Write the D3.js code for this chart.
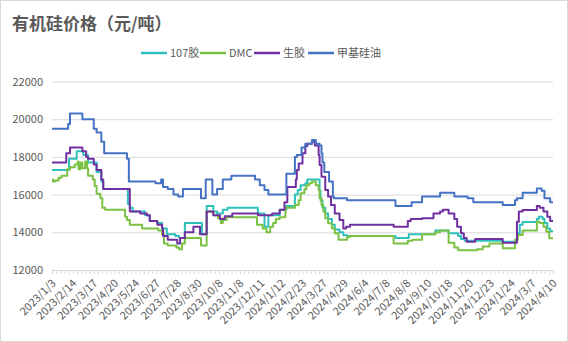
<!DOCTYPE html>
<html>
<head>
<meta charset="utf-8">
<script src="https://cdn.jsdelivr.net/npm/d3@7"></script>
<style>
  html, body { margin: 0; padding: 0; background: #fff; }
  svg { display: block; font-family: "Noto Sans CJK SC", "Noto Sans", sans-serif; }
</style>
</head>
<body>
<svg id="chart" width="568" height="342"></svg>
<script>
// ---------- data ----------
const title = "有机硅价格（元/吨）";
const pointCount = 529; // number of daily categories
const tickLabels = ["2023/1/3","2023/2/14","2023/3/17","2023/4/20","2023/5/24","2023/6/27","2023/7/28","2023/8/30","2023/10/8","2023/11/8","2023/12/11","2024/1/12","2024/2/23","2024/3/27","2024/4/29","2024/6/4","2024/7/8","2024/8/8","2024/9/10","2024/10/18","2024/11/20","2024/12/23","2024/1/24","2024/3/7","2024/4/10"];
const labelInterval = 22;
const yTicks = [12000, 14000, 16000, 18000, 20000, 22000];
const seriesNames = ["107胶", "DMC", "生胶", "甲基硅油"];

// each series: [category index where price changes, price]
const s107 = [[0,17300],[18,17900],[26,18300],[33,18100],[38,17700],[47,17200],[52,16700],[54,16300],[80,15500],[82,15300],[85,15100],[98,14900],[103,14600],[111,14500],[116,14200],[121,13900],[130,13800],[134,13700],[140,14500],[158,13900],[163,15400],[170,15100],[174,15000],[180,15200],[185,15300],[217,15000],[224,14300],[228,14900],[240,15200],[247,15400],[256,16000],[259,16240],[262,16500],[267,16600],[269,16800],[282,16200],[283,15700],[285,15300],[288,15000],[291,14700],[295,14400],[298,14150],[303,14000],[307,13850],[311,13800],[362,13700],[376,13900],[404,14100],[418,13950],[428,13800],[431,13650],[435,13550],[475,13500],[490,13950],[493,14400],[496,14550],[511,14700],[513,14830],[517,14700],[519,14500],[522,14200],[525,14050]];
const sDMC = [[0,16800],[1,16700],[3,16750],[7,16900],[10,17000],[16,17350],[19,17450],[24,17600],[27,17750],[28,17350],[30,17700],[32,17400],[35,17750],[37,17400],[38,17000],[43,16800],[45,16450],[47,16050],[51,15800],[53,15300],[56,15200],[77,14830],[79,14650],[82,14400],[95,14200],[112,14100],[116,13900],[118,13400],[122,13300],[131,13200],[134,13100],[137,13400],[140,13700],[157,13300],[163,15100],[170,14900],[175,14750],[178,14500],[180,14650],[184,14800],[216,14400],[222,14200],[226,14000],[230,14300],[233,14500],[236,14700],[240,14800],[246,15300],[256,15450],[260,15700],[262,16070],[266,16280],[268,16500],[271,16600],[274,16700],[278,16500],[281,16250],[282,15800],[284,15450],[286,15100],[288,14750],[291,14480],[295,14200],[298,13950],[302,13600],[311,13750],[314,13800],[360,13400],[375,13550],[380,13600],[390,13900],[404,14000],[409,14100],[418,13450],[424,13200],[428,13050],[448,13100],[454,13250],[461,13400],[475,13150],[488,13600],[491,13860],[496,14100],[511,14560],[514,14500],[518,14300],[521,14030],[524,13680]];
const sRubber = [[0,17700],[15,18200],[19,18500],[32,18300],[36,18000],[38,17900],[44,17600],[47,17300],[52,16800],[54,16300],[82,15100],[93,15000],[100,14900],[103,14600],[111,14400],[116,14200],[117,13800],[122,13600],[132,13400],[135,13700],[140,14000],[149,14300],[156,13900],[163,15100],[170,14900],[177,14700],[182,14850],[190,15000],[217,14900],[232,15000],[240,15200],[245,15600],[248,16400],[257,16800],[258,17300],[260,17650],[264,18200],[267,18580],[269,18700],[274,18800],[277,18600],[281,18100],[282,17570],[284,16950],[288,16240],[291,15900],[294,15450],[298,15000],[303,14650],[307,14200],[310,14300],[314,14400],[360,14300],[375,14600],[378,14700],[390,14750],[402,15000],[409,15100],[412,15200],[418,15000],[424,14700],[427,14300],[431,13950],[434,13700],[437,13500],[446,13650],[475,13450],[490,14560],[492,15100],[496,15180],[511,15400],[514,15300],[518,15100],[522,14830],[525,14600]];
const sSilicone = [[0,19500],[17,19750],[19,20300],[32,20000],[44,19500],[47,19300],[52,18800],[55,18200],[79,17900],[81,16700],[109,16600],[115,16800],[117,16400],[122,16300],[128,16000],[133,15900],[138,16300],[157,15800],[162,16800],[169,16000],[174,16300],[180,16800],[189,17000],[214,16800],[219,16500],[224,16250],[228,16000],[247,17100],[256,18000],[258,18100],[263,18500],[267,18700],[274,18900],[278,18700],[282,18600],[284,18200],[285,17700],[287,17200],[292,16700],[296,15900],[297,15800],[311,15700],[362,15400],[379,15600],[390,15900],[409,16100],[424,15900],[438,15800],[444,15600],[475,15450],[488,15700],[490,15800],[496,16100],[511,16330],[516,16200],[519,15800],[525,15600]];

const seriesData = [s107, sDMC, sRubber, sSilicone];
const colors = ["#2EC0BC", "#7BC143", "#7030A0", "#4472C4"];

// ---------- layout ----------
const svg = d3.select("#chart");
const margin = { left: 52, right: 15, top: 81, bottom: 72 };
const W = 568, H = 342;

svg.append("rect").attr("x", 0.5).attr("y", 0.5).attr("width", W - 1).attr("height", H - 1)
  .attr("fill", "#fff").attr("stroke", "#d9d9d9");

const x = d3.scaleLinear().domain([0, pointCount - 1]).range([52, 553]);
const y = d3.scaleLinear().domain([12000, 22000]).range([270, 81.5]);

// title
svg.append("text").attr("x", 12).attr("y", 30).text(title)
  .attr("font-size", 17).attr("font-weight", "bold").attr("fill", "#595959")
  .attr("font-family", "'Noto Sans CJK SC', sans-serif");

// gridlines + y labels
const yAxis = d3.axisLeft(y).tickValues(yTicks).tickSize(-(553 - 52)).tickFormat(d3.format("d"));
const gy = svg.append("g").attr("transform", "translate(52,0)").call(yAxis);
gy.select(".domain").remove();
gy.selectAll(".tick line").attr("stroke", "#d9d9d9").attr("stroke-width", 1);
gy.selectAll(".tick text").attr("x", -9).attr("fill", "#595959").attr("font-size", 11)
  .attr("font-family", "'Noto Sans CJK SC', sans-serif");

// x axis tick marks
const minorTicks = d3.range(0, pointCount, labelInterval / 5);
const xAxisTicks = d3.axisBottom(x).tickValues(minorTicks).tickSize(4).tickFormat("");
const gx = svg.append("g").attr("transform", "translate(0,270)").call(xAxisTicks);
gx.select(".domain").attr("stroke", "#d9d9d9").attr("d", "M52,0.5H553");
gx.selectAll(".tick line").attr("stroke", "#d9d9d9");

// x axis labels
const labelIdx = tickLabels.map((d, i) => i * labelInterval);
const xAxisLabels = d3.axisBottom(x).tickValues(labelIdx).tickSize(0)
  .tickFormat((d, i) => tickLabels[i]);
const gl = svg.append("g").attr("transform", "translate(0,270)").call(xAxisLabels);
gl.select(".domain").remove();
gl.selectAll(".tick text")
  .attr("fill", "#595959").attr("font-size", 11)
  .attr("font-family", "'Noto Sans CJK SC', sans-serif")
  .attr("text-anchor", "end")
  .attr("y", 0).attr("dy", 0)
  .attr("transform", "translate(4,14) rotate(-45)");

// lines
const line = d3.line().x(d => x(d[0])).y(d => y(d[1])).curve(d3.curveStepAfter);
seriesData.forEach((s, k) => {
  const pts = s.concat([[pointCount - 1, s[s.length - 1][1]]]);
  svg.append("path").datum(pts).attr("d", line)
    .attr("fill", "none").attr("stroke", colors[k]).attr("stroke-width", 2)
    .attr("stroke-linejoin", "round");
});

// legend
const legendX = [141, 200, 254, 308];
const lg = svg.append("g");
seriesNames.forEach((n, k) => {
  const g = lg.append("g").attr("transform", `translate(${legendX[k]},53)`);
  g.append("line").attr("x1", 0).attr("x2", 26).attr("y1", 0).attr("y2", 0)
    .attr("stroke", colors[k]).attr("stroke-width", 2.5);
  g.append("text").attr("x", 29).attr("y", 4).text(n)
    .attr("font-size", 11).attr("fill", "#595959")
    .attr("font-family", "'Noto Sans CJK SC', sans-serif");
});
</script>
</body>
</html>
